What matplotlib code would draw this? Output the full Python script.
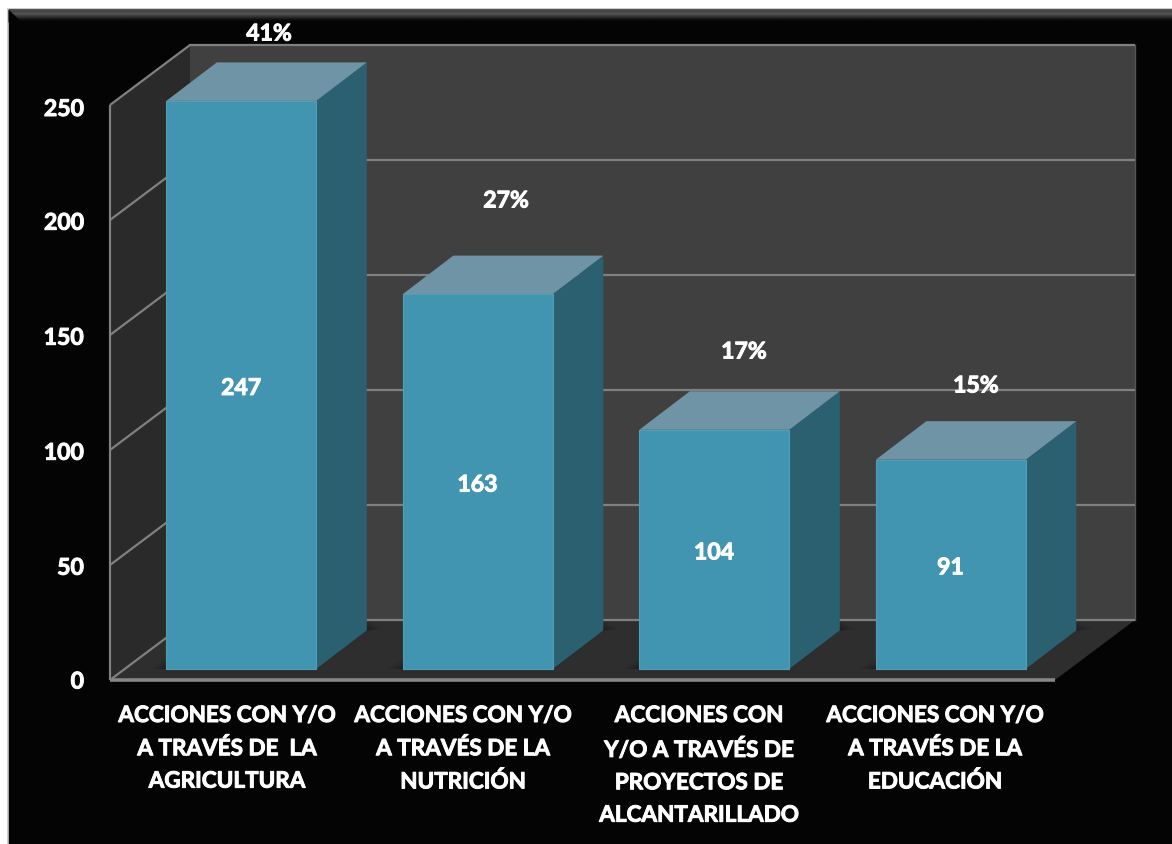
import numpy as np
import matplotlib
matplotlib.use("Agg")
import matplotlib.pyplot as plt
import matplotlib.patheffects as pe
from matplotlib.patches import Polygon

categories = ["ACCIONES CON Y/O\nA TRAVÉS DE  LA\nAGRICULTURA",
              "ACCIONES CON Y/O\nA TRAVÉS DE LA\nNUTRICIÓN",
              "ACCIONES CON\nY/O A TRAVÉS DE\nPROYECTOS DE\nALCANTARILLADO",
              "ACCIONES CON Y/O\nA TRAVÉS DE LA\nEDUCACIÓN"]
values = [247, 163, 104, 91]
percents = ["41%", "27%", "17%", "15%"]
y_ticks = [0, 50, 100, 150, 200, 250]

W, H = 1172, 844
plt.rcParams['font.family'] = ['Lato', 'DejaVu Sans']
plt.rcParams['font.weight'] = 'bold'
fig = plt.figure(figsize=(W/100, H/100), dpi=100, facecolor='white')
ax = fig.add_axes([0, 0, 1, 1])
bold = [pe.withStroke(linewidth=0.7, foreground='white')]

# data scale: x in category units, y in value units
X0, DX = 242.0, 236.5     # px of first bar centre, px per category
Y0, SY = 680.0, 2.3       # px of value 0 at the front plane, px per value
xu = lambda px: px/DX
yu = lambda px: px/SY
xp = lambda px: (px - X0)/DX
yp = lambda px: (Y0 - px)/SY

# frame
ax.add_patch(Polygon([(xp(8), yp(9)), (xp(W+10), yp(9)), (xp(W+10), yp(H+10)), (xp(8), yp(H+10))],
                     closed=True, fc='#040404', ec='#c4c4c4', lw=1.2, zorder=1))
grad = np.array([0.32, 0.30, 0.25, 0.30, 0.33, 0.30, 0.25, 0.21, 0.16, 0.11, 0.07, 0.04, 0.02])[:, None]
ax.imshow(grad, cmap='gray', vmin=0, vmax=1, aspect='auto',
          extent=(xp(9), xp(W), yp(22), yp(9.5)), zorder=2, interpolation='bilinear')
ax.add_patch(Polygon([(xp(8.5), yp(9.5)), (xp(22), yp(22.5)), (xp(8.5), yp(22.5))], closed=True,
                     fc='#040404', ec='none', zorder=2.1))
ax.set_xlim((0 - X0)/DX, (W - X0)/DX)
ax.set_ylim((Y0 - H)/SY, Y0/SY)
ax.axis('off')

# walls
left, right = xp(110), xp(1055)
dx_w, dy_w = xu(80), yu(60)
top = y_ticks[-1]
ax.add_patch(Polygon([(left, 0), (left+dx_w, dy_w), (left+dx_w, top+dy_w), (left, top)],
                     closed=True, fc='#2a2a2a', ec='none', zorder=3))
ax.add_patch(Polygon([(left+dx_w, dy_w), (right+dx_w, dy_w), (right+dx_w, top+dy_w), (left+dx_w, top+dy_w)],
                     closed=True, fc='#404040', ec='none', zorder=3))
ax.add_patch(Polygon([(left, 0), (right, 0), (right+dx_w, dy_w), (left+dx_w, dy_w)],
                     closed=True, fc='#2e2e2e', ec='none', zorder=3))
for t in y_ticks:
    ax.plot([left, left+dx_w, right+dx_w], [t, t+dy_w, t+dy_w], color='#808080', lw=1.6,
            solid_joinstyle='miter', solid_capstyle='butt', zorder=4)
    ax.text(xp(84), t - yu(2.0 if t == 0 else 4.5 if t == 250 else 3.2), str(t), ha='right', va='center',
            color='white', fontsize=16.6, zorder=9, path_effects=bold)
ax.plot([left, right], [0, 0], color='#868686', lw=2.6, solid_capstyle='butt', zorder=4.5)
ax.plot([left, left], [0, top], color='#808080', lw=1.6, solid_capstyle='butt', zorder=4.5)
ax.plot([right+dx_w]*2, [dy_w, top+dy_w], color='#555555', lw=1.0, zorder=3.5)

# bars
bw = xu(150)
base = yu(11)
dx_b, dy_b = xu(50.5), yu(38.5)
pct_y = [34, 201, 352, 386]
pct_x = [269, 506, 744, 976]
cat_x = [227, 463, 699, 935]
for i, (v, p, c) in enumerate(zip(values, percents, categories)):
    l, r = i - bw/2 - xu(0.7), i + bw/2 - xu(0.7)
    b, t = base, base + v
    # soft floor shadow
    for k, a in zip([14, 11, 8, 5, 3, 1.5], [0.05, 0.05, 0.06, 0.07, 0.08, 0.10]):
        ax.add_patch(Polygon([(l - xu(k*1.2), b), (r, b), (r + dx_b, b + dy_b), (r + dx_b + xu(k*1.2), b + dy_b + yu(k*0.1)),
                              (r + dx_b, b + dy_b + yu(k*0.7)), (r, b + yu(k*0.7)), (l, b + yu(k*0.7))],
                             closed=True, fc='black', ec='none', alpha=a, zorder=4.6))
    ax.add_patch(Polygon([(r, b), (r+dx_b, b+dy_b), (r+dx_b, t+dy_b), (r, t)], closed=True,
                         fc='#2a606f', ec='none', zorder=5))
    ax.add_patch(Polygon([(l, t), (r, t), (r+dx_b, t+dy_b), (l+dx_b, t+dy_b)], closed=True,
                         fc='#6f94a5', ec='none', zorder=5))
    ax.add_patch(Polygon([(l, b), (r, b), (r, t), (l, t)], closed=True,
                         fc='#4295b1', ec='#4f9fb9', lw=0.8, zorder=6))
    ax.text(i - xu(1), (b + t)/2 - yu(3.5), str(v), ha='center', va='center', color='white',
            fontsize=16.6, zorder=9, path_effects=bold)
    ax.text(xp(pct_x[i]), yp(pct_y[i]), p, ha='center', va='center', color='white',
            fontsize=16.6, zorder=9, path_effects=bold)
    ax.text(xp(cat_x[i]), yp(705), c, ha='center', va='top', color='white', fontsize=16.2,
            linespacing=1.67, zorder=9, path_effects=bold)

fig.savefig('out.png', dpi=100, facecolor='white')
